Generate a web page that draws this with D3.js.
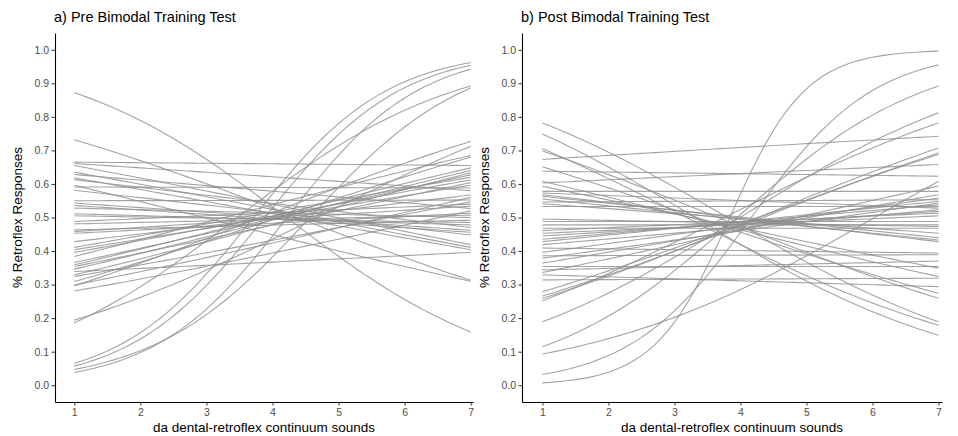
<!DOCTYPE html>
<html>
<head>
<meta charset="utf-8">
<script src="https://cdn.jsdelivr.net/npm/d3@7"></script>
<style>
  body { margin: 0; background: #fff; }
  svg { font-family: "Liberation Sans", Arial, sans-serif; }
</style>
</head>
<body>
<div id="chart"></div>
<script>
// Two panels of per-participant logistic fits, pre vs post bimodal training.
// Each curve is kept as [p at step 1, p at step 7].

const panelTitles = ["a) Pre Bimodal Training Test", "b) Post Bimodal Training Test"];
const xTicks = [1, 2, 3, 4, 5, 6, 7];
const yTicks = [0, 0.1, 0.2, 0.3, 0.4, 0.5, 0.6, 0.7, 0.8, 0.9, 1.0];
const xLabel = "da dental-retroflex continuum sounds";
const yLabel = "% Retroflex Responses";

const preCurves = [
  [0.872, 0.159], [0.732, 0.313], [0.596, 0.310],
  [0.065, 0.962], [0.057, 0.954], [0.038, 0.942], [0.047, 0.886],
  [0.186, 0.892], [0.194, 0.712],
  [0.665, 0.655], [0.661, 0.580], [0.655, 0.419], [0.635, 0.411],
  [0.628, 0.527], [0.618, 0.404], [0.613, 0.470], [0.591, 0.588],
  [0.581, 0.448], [0.550, 0.552], [0.543, 0.462], [0.536, 0.456],
  [0.528, 0.500], [0.511, 0.478], [0.505, 0.485], [0.488, 0.540],
  [0.481, 0.507], [0.463, 0.492], [0.458, 0.534], [0.453, 0.513],
  [0.428, 0.567], [0.411, 0.620], [0.404, 0.596], [0.396, 0.612],
  [0.384, 0.685], [0.366, 0.627], [0.359, 0.648], [0.354, 0.604],
  [0.346, 0.640], [0.339, 0.396], [0.329, 0.633], [0.324, 0.547],
  [0.309, 0.680], [0.299, 0.560], [0.296, 0.727], [0.281, 0.520]
];

const postCurves = [
  [0.007, 0.996], [0.032, 0.955], [0.115, 0.892], [0.189, 0.812],
  [0.093, 0.608], [0.252, 0.782], [0.259, 0.707], [0.266, 0.692],
  [0.279, 0.688], [0.314, 0.319], [0.329, 0.294], [0.336, 0.594],
  [0.344, 0.370], [0.354, 0.354], [0.364, 0.568], [0.379, 0.543],
  [0.386, 0.389], [0.396, 0.558], [0.409, 0.394], [0.419, 0.523],
  [0.428, 0.548], [0.435, 0.538], [0.445, 0.518], [0.453, 0.505],
  [0.461, 0.513], [0.468, 0.468], [0.478, 0.478], [0.488, 0.488],
  [0.495, 0.473], [0.533, 0.533], [0.541, 0.453], [0.546, 0.553],
  [0.555, 0.433], [0.563, 0.440], [0.568, 0.428], [0.573, 0.528],
  [0.578, 0.578], [0.593, 0.349], [0.603, 0.658], [0.608, 0.324],
  [0.638, 0.623], [0.651, 0.274], [0.673, 0.742], [0.698, 0.259],
  [0.705, 0.179], [0.749, 0.149], [0.782, 0.189]
];

const W = 958, H = 436;
const svg = d3.select("#chart").append("svg").attr("width", W).attr("height", H);

const logit = p => Math.log(p / (1 - p));
const inv = l => 1 / (1 + Math.exp(-l));

function drawPanel({ curves, title, left, right, xMin, xMax }) {
  const top = 33, bottom = 402;

  const x = d3.scaleLinear().domain([xMin, xMax]).range([left, right]);
  const y = d3.scaleLinear().domain([-0.05, 1.05]).range([bottom, top]);

  const g = svg.append("g");

  // curves: straight in logit space between the two read end values
  const steps = d3.range(0, 61).map(i => 1 + i * 0.1);
  const line = d3.line().x(d => x(d[0])).y(d => y(d[1]));
  g.append("g").selectAll("path").data(curves).join("path")
    .attr("fill", "none")
    .attr("stroke", "#8f8f8f")
    .attr("stroke-opacity", 0.82)
    .attr("stroke-width", 1.1)
    .attr("d", c => {
      const a = logit(c[0]), b = logit(c[1]);
      return line(steps.map(s => [s, inv(a + (b - a) * (s - 1) / 6)]));
    });

  // axes (theme_classic look)
  const ax = g.append("g").attr("transform", `translate(0,${bottom})`)
    .call(d3.axisBottom(x).tickValues(xTicks).tickFormat(d3.format("d"))
      .tickSize(3.5).tickPadding(3).tickSizeOuter(0));
  const ay = g.append("g").attr("transform", `translate(${left},0)`)
    .call(d3.axisLeft(y).tickValues(yTicks).tickFormat(d3.format(".1f"))
      .tickSize(3.5).tickPadding(2.5).tickSizeOuter(0));
  [ax, ay].forEach(a => {
    a.attr("font-family", "Liberation Sans, Arial, sans-serif");
    a.select(".domain").attr("stroke", "#000").attr("stroke-width", 1.1);
    a.selectAll(".tick line").attr("stroke", "#333");
    a.selectAll(".tick text").attr("fill", "#4d4d4d").style("font-size", "10.5px");
  });

  g.append("text")
    .attr("x", left - 1).attr("y", 22)
    .style("font-size", "14.5px").attr("fill", "#000")
    .text(title);

  g.append("text")
    .attr("x", (left + right) / 2).attr("y", 432)
    .attr("text-anchor", "middle")
    .style("font-size", "13.5px").attr("fill", "#000")
    .text(xLabel);

  g.append("text")
    .attr("transform", `translate(${left - 33},${(top + bottom) / 2}) rotate(-90)`)
    .attr("text-anchor", "middle")
    .style("font-size", "13.5px").attr("fill", "#000")
    .text(yLabel);
}

drawPanel({ curves: preCurves, title: panelTitles[0], left: 55, right: 473, xMin: 0.708, xMax: 7.035 });
drawPanel({ curves: postCurves, title: panelTitles[1], left: 522, right: 942, xMin: 0.69, xMax: 7.053 });
</script>
</body>
</html>
